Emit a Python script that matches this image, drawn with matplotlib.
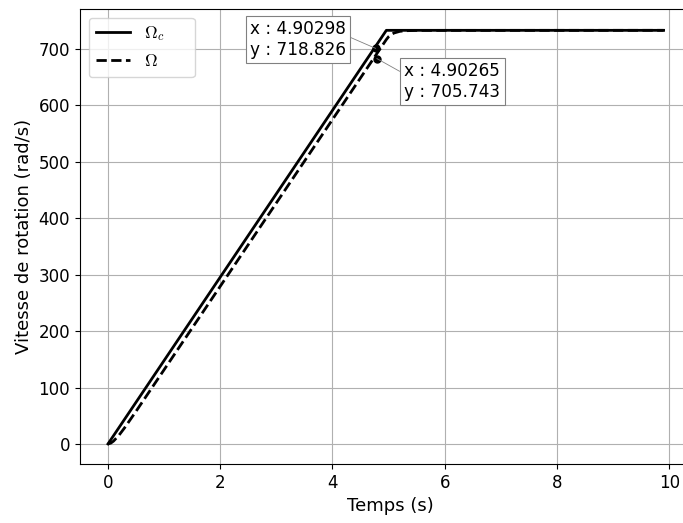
import numpy as np
import matplotlib

matplotlib.use("Agg")
import matplotlib.pyplot as plt

plt.rcParams["mathtext.fontset"] = "cm"
plt.rcParams["font.family"] = "DejaVu Sans"

# consigne (Omega_c) : rampe puis palier
t_cmd = [0.0, 4.96, 9.9]
w_cmd = [0.0, 733.0, 733.0]

# vitesse mesuree (Omega) : suit la rampe avec un leger retard
t_mes = [0.0, 0.05, 0.1, 0.2, 0.3, 0.5, 1.0, 2.0, 3.0, 4.0, 4.96,
         5.0, 5.05, 5.1, 5.2, 5.3, 5.5, 9.9]
w_mes = [0.0, 1.4, 5.1, 15.9, 29.1, 57.8, 131.5, 279.3, 427.1, 574.9, 716.7,
         721.7, 725.8, 728.4, 731.2, 732.3, 732.9, 733.0]

# data tips
tips_x = [4.77, 4.79]
tips_y = [701.0, 683.0]
tips_txt = ["x : 4.90298\ny : 718.826", "x : 4.90265\ny : 705.743"]

fig = plt.figure(figsize=(6.83, 5.23), dpi=100)
ax = fig.add_axes([0.117, 0.113, 0.908, 0.870])

ax.plot(t_cmd, w_cmd, "-", color="black", lw=2, label=r"$\Omega_c$" + "     ")
ax.plot(t_mes, w_mes, "--", color="black", lw=2, label=r"$\Omega$")
ax.plot(tips_x, tips_y, "o", color="black", ms=5)

box = dict(boxstyle="square,pad=0.25", fc="white", ec="gray", lw=0.8)
ax.annotate(tips_txt[0], xy=(tips_x[0], tips_y[0]), xytext=(2.53, 717),
            ha="left", va="center", fontsize=12.2, bbox=box,
            arrowprops=dict(arrowstyle="-", color="gray", lw=0.6,
                            relpos=(1.0, 0.6), shrinkA=0, shrinkB=0))
ax.annotate(tips_txt[1], xy=(tips_x[1], tips_y[1]), xytext=(5.28, 642),
            ha="left", va="center", fontsize=12.2, bbox=box,
            arrowprops=dict(arrowstyle="-", color="gray", lw=0.6,
                            relpos=(0.0, 0.7), shrinkA=0, shrinkB=0))

ax.set_xlim(-0.5, 10.55)
ax.set_ylim(-35.4, 771)
ax.set_xticks([0, 2, 4, 6, 8, 10])
ax.set_yticks(range(0, 701, 100))
ax.tick_params(labelsize=12)
ax.grid(True, color="#b0b0b0", lw=0.8)
ax.set_xlabel("Temps (s)", fontsize=13)
ax.set_ylabel("Vitesse de rotation (rad/s)", fontsize=13)
ax.legend(loc="upper left", fontsize=12.5, handlelength=2.0)

fig.savefig("out.png", dpi=100)
